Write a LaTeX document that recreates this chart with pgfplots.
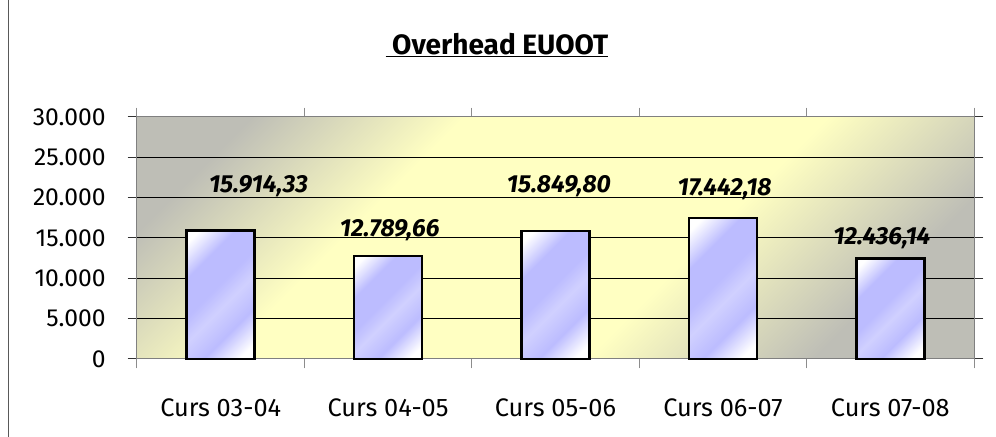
\documentclass[border=0pt]{standalone}
\usepackage{pgfplots}
\pgfplotsset{compat=1.18}
\usepackage{fontspec}
\setmainfont{Fira Sans}
\definecolor{bgGray}{RGB}{190,190,182}
\definecolor{bgYellow}{RGB}{255,255,194}
\definecolor{barBlue}{RGB}{188,188,255}
\definecolor{barLight}{RGB}{208,208,255}
\pgfdeclareverticalshading{bgshade}{100bp}{color(0bp)=(bgGray); color(25bp)=(bgGray); color(40bp)=(bgYellow); color(64bp)=(bgYellow); color(78bp)=(bgGray); color(100bp)=(bgGray)}
\pgfdeclareverticalshading{barshade}{100bp}{color(0bp)=(white); color(20bp)=(white); color(33bp)=(barBlue); color(45bp)=(barLight); color(54bp)=(barBlue); color(68bp)=(barBlue); color(81bp)=(white); color(100bp)=(white)}
\pgfplotstableread{
x y
0 15914.33
1 12789.66
2 15849.80
3 17442.18
4 12436.14
}\bars
\pgfplotstableread{
x y lab
0.226 21446 15.914,33
1.01 15992 12.789,66
2.02 21446 15.849,80
3.01 21074 17.442,18
3.95 14938 12.436,14
}\labels
\begin{document}
\begin{tikzpicture}
\begin{axis}[
  scale only axis, width=627.75pt, height=181.5pt,
  xmin=-0.5, xmax=4.5, ymin=0, ymax=30000,
  axis background/.style={shading=bgshade, shading angle=45},
  axis line style={black!50, line width=0.75pt},
  ymajorgrids, grid style={black, line width=0.75pt},
  ytick={0,5000,...,30000},
  xtick={-0.5,0.5,...,4.5},
  x tick label as interval,
  xticklabels={Curs 03-04,Curs 04-05,Curs 05-06,Curs 06-07,Curs 07-08},
  tick align=outside, major tick length=7pt,
  xtick style={black!45, line width=0.75pt},
  ytick style={black!80, line width=0.75pt},
  yticklabel style={/pgf/number format/1000 sep={.}, /pgf/number format/assume math mode=true, font=\fontsize{18.5}{21}\selectfont, xshift=-13pt},
  xticklabel style={font=\fontsize{19}{22}\selectfont, yshift=-19pt},
  scaled y ticks=false,
  title={\underline{\ Overhead EUOOT}},
  title style={font=\bfseries\fontsize{21}{24}\selectfont, at={(rel axis cs:0.43,1.227)}, anchor=base},
  clip=false,
]
\pgfplotsinvokeforeach{-0.2:0.2,0.8:1.2,1.8:2.2,2.8:3.2,3.8:4.2}{
\addplot[ybar, bar width=51pt, draw=black, line width=1.8pt, shading=barshade, shading angle=45,
  restrict x to domain=#1] table[x=x,y=y] {\bars};
}
\addplot[draw=none, mark=none, nodes near coords, point meta=explicit symbolic,
  every node near coord/.append style={anchor=center, font=\bfseries\itshape\fontsize{18.5}{21}\selectfont}] table[x=x,y=y,meta=lab] {\labels};
\end{axis}
\draw[black!65, line width=0.75pt] ([shift={(-96pt,-58.5pt)}]current axis.south west) -- ++(0,327.75pt);
\pgfresetboundingbox
\path ([shift={(-102.75pt,-58.5pt)}]current axis.south west) rectangle ([shift={(16.5pt,87.75pt)}]current axis.north east);
\end{tikzpicture}
\end{document}
